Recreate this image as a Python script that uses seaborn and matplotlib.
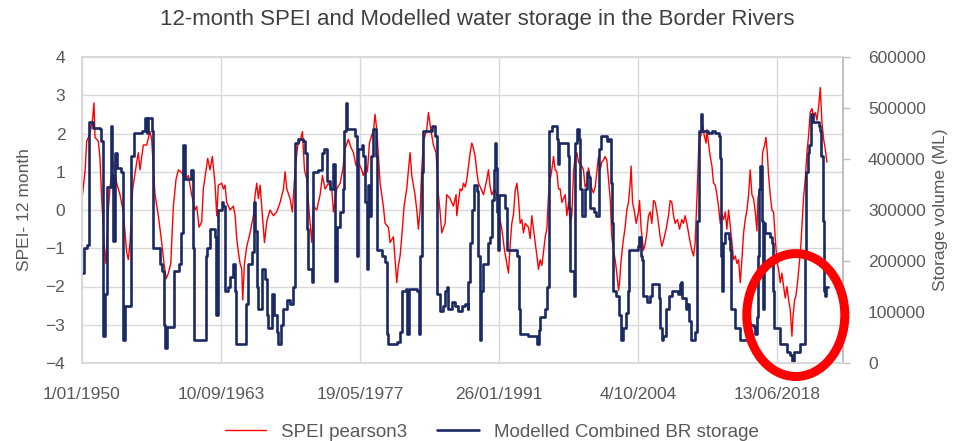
import numpy as np
import pandas as pd
import matplotlib
matplotlib.use("Agg")
import matplotlib.pyplot as plt
import matplotlib.dates as mdates
from matplotlib.patches import Ellipse
import seaborn as sns

# -----------------------------
# data (decimal years)
# -----------------------------
spei_year = [
    1950.00, 1950.30, 1950.46, 1950.79, 1951.05, 1951.18, 1951.28, 1951.61, 1951.77, 1951.94,
    1952.17, 1952.36, 1952.59, 1952.76, 1953.09, 1953.42, 1953.74, 1954.07, 1954.40, 1954.56,
    1954.73, 1954.99, 1955.39, 1955.55, 1955.71, 1956.04, 1956.37, 1956.70, 1956.86, 1957.19,
    1957.52, 1957.85, 1958.08, 1958.28, 1958.51, 1958.74, 1959.00, 1959.26, 1959.49, 1959.82,
    1960.15, 1960.48, 1960.80, 1961.13, 1961.30, 1961.53, 1961.79, 1961.95,
    1962.38, 1962.61, 1962.84, 1963.11, 1963.27, 1963.43, 1963.76, 1963.93, 1964.09, 1964.25,
    1964.58, 1964.91, 1965.08, 1965.24, 1965.40, 1965.57, 1965.73, 1965.83, 1966.00, 1966.23,
    1966.55, 1966.88, 1967.05, 1967.21, 1967.37, 1967.54, 1967.70, 1967.97, 1968.20, 1968.52,
    1968.85, 1969.18, 1969.51, 1969.84, 1970.00, 1970.17, 1970.49, 1970.72, 1970.99, 1971.25,
    1971.48, 1971.71, 1971.91, 1972.14, 1972.37, 1972.63, 1972.79, 1973.12, 1973.45, 1973.68,
    1973.94, 1974.27, 1974.60,
    1974.76, 1975.09, 1975.42, 1975.68, 1975.91, 1976.24, 1976.47, 1976.73, 1977.00, 1977.22,
    1977.55, 1977.71, 1977.98, 1978.11, 1978.31, 1978.53, 1978.70, 1978.86, 1979.03, 1979.19,
    1979.36, 1979.52, 1979.68, 1979.85, 1980.18, 1980.34, 1980.67, 1980.83, 1981.00, 1981.16,
    1981.33, 1981.49, 1981.72, 1981.98, 1982.15, 1982.31, 1982.48, 1982.80, 1982.97, 1983.13,
    1983.30, 1983.46, 1983.63, 1983.95, 1984.12, 1984.35, 1984.61, 1984.87, 1985.10, 1985.27,
    1985.43, 1985.76, 1985.92, 1986.25, 1986.58, 1986.84,
    1986.91, 1987.08, 1987.24, 1987.41, 1987.57, 1987.74, 1987.90, 1988.06, 1988.23, 1988.39,
    1988.56, 1988.72, 1988.88, 1989.05, 1989.31, 1989.54, 1989.71, 1989.87, 1990.03, 1990.20,
    1990.36, 1990.63, 1990.85, 1991.02, 1991.35, 1991.61, 1991.84, 1992.00, 1992.17, 1992.33,
    1992.50, 1992.66, 1992.83, 1992.99, 1993.15, 1993.32, 1993.48, 1993.65, 1993.97, 1994.14,
    1994.30, 1994.47, 1994.63, 1994.80, 1994.96, 1995.12, 1995.29, 1995.45, 1995.62, 1995.78,
    1995.95, 1996.11, 1996.27, 1996.44, 1996.60, 1996.77, 1996.93, 1997.09, 1997.26, 1997.59,
    1997.75, 1997.92, 1998.08, 1998.24, 1998.41, 1998.57, 1998.74, 1998.90, 1999.23,
    1999.39, 1999.55, 1999.72, 1999.88, 2000.05, 2000.21, 2000.37, 2000.54, 2000.70, 2000.87,
    2001.03, 2001.19, 2001.36, 2001.52, 2001.69, 2001.85, 2002.02, 2002.18, 2002.34, 2002.51,
    2002.67, 2002.84, 2002.94, 2003.07, 2003.26, 2003.49, 2003.66, 2003.82, 2003.99, 2004.08,
    2004.22, 2004.38, 2004.58, 2004.81, 2004.91, 2005.07, 2005.30, 2005.46, 2005.63, 2005.79,
    2005.96, 2006.12, 2006.29, 2006.45, 2006.68, 2006.94, 2007.11, 2007.27, 2007.53, 2007.76,
    2007.93, 2008.09, 2008.26, 2008.42, 2008.65, 2008.85, 2009.08, 2009.24, 2009.40, 2009.57,
    2009.73, 2009.90, 2010.06, 2010.23, 2010.39, 2010.49, 2010.62, 2010.75, 2010.95, 2011.15,
    2011.28, 2011.47,
    2011.54, 2011.71, 2011.87, 2012.04, 2012.20, 2012.37, 2012.53, 2012.69, 2012.86, 2013.02,
    2013.19, 2013.35, 2013.51, 2013.68, 2013.84, 2014.01, 2014.17, 2014.34, 2014.50, 2014.66,
    2014.83, 2014.99, 2015.16, 2015.32, 2015.49, 2015.65, 2015.81, 2015.98, 2016.14, 2016.31,
    2016.47, 2016.57, 2016.70, 2016.90, 2017.03, 2017.23, 2017.36, 2017.49, 2017.62, 2017.78,
    2017.95, 2018.11, 2018.28, 2018.44, 2018.60, 2018.77, 2018.93, 2019.10, 2019.26, 2019.43,
    2019.59, 2019.75, 2019.92, 2020.02, 2020.18, 2020.31, 2020.51, 2020.64, 2020.77, 2020.90,
    2021.07, 2021.23, 2021.40, 2021.56, 2021.72, 2021.89, 2022.05, 2022.22, 2022.38, 2022.55,
    2022.71, 2022.87, 2023.04, 2023.20, 2023.37,
]
spei_value = [
    0.3, 1.0, 1.8, 2.0, 2.4, 2.8, 1.9, 1.8, 1.35, 0.3,
    -0.85, -1.4, 0.0, 0.6, 1.25, 0.7, 0.4, -0.05, -1.1, -1.3,
    -0.85, 0.55, 1.25, 1.5, 1.05, 1.7, 1.7, 2.05, 1.85, 0.4,
    -0.15, -0.85, -1.4, -1.8, -1.65, -1.4, 0.1, 0.8, 1.05, 0.98,
    0.8, 0.9, 0.4, 0.0, 0.1, -0.45, -0.3, 0.55,
    1.35, 1.05, 1.4, 0.65, -0.15, 0.65, 0.7, 0.55, 0.65, 0.2,
    0.0, 0.1, -0.15, -0.75, -1.1, -1.4, -1.55, -2.35, -1.4, -0.95,
    -0.6, -0.15, 0.4, 0.7, 0.3, 0.65, 0.1, -0.85, -0.3, 0.0,
    -0.15, -0.05, 0.2, 0.55, 1.0, 0.55, 0.3, -0.05, 1.05, 1.7,
    1.8, 2.05, 1.05, 0.8, -0.05, -0.85, 0.1, 0.0, 0.4, 0.9,
    0.55, 0.7, 0.55,
    -0.05, 0.55, 0.7, 1.05, 1.6, 1.85, 1.65, 1.5, 1.15, 1.25,
    1.05, 0.9, 1.15, 1.0, 1.75, 1.95, 2.05, 2.5, 2.1, 1.4,
    0.7, 0.4, 0.1, -0.35, -0.45, -0.85, -0.7, -1.3, -1.9, -1.45,
    -1.2, -0.7, 0.1, 0.55, 1.05, 1.5, 0.9, 0.4, 0.0, -0.5,
    0.0, 1.05, 1.8, 2.1, 2.55, 2.1, 1.7, 1.5, 0.4, -0.05,
    -0.6, -0.35, 0.4, 0.3, 0.1, 0.4,
    -0.15, 0.2, 0.55, 0.5, 0.7, 0.6, 0.8, 1.15, 1.5, 1.75,
    1.6, 1.4, 1.0, 0.7, 0.55, 0.4, 0.6, 0.8, 1.05, 0.6,
    0.4, 0.55, 0.4, -0.05, -0.5, -1.05, -1.4, -1.65, -0.9, -0.35,
    -0.1, 0.5, 0.7, 0.3, -0.35, -0.25, -0.6, -0.35, -0.45, -0.75,
    -0.15, -0.5, -0.85, -1.2, -1.55, -1.3, -1.45, -1.1, -0.7, -0.5,
    0.4, 0.8, 1.05, 1.4, 1.05, 1.0, 0.55, 0.55, 0.2, 0.4,
    -0.15, 0.2, -0.35, -0.15, 1.0, 1.4, 1.5, 1.25, 1.15,
    1.05, 0.6, 0.7, 1.1, 0.85, 0.55, 0.45, 0.6, 1.0, 1.4,
    1.05, 1.25, 1.3, 1.4, 1.3, 0.8, 0.3, -0.7, -1.05, -1.3,
    -1.65, -2.1, -1.9, -1.4, -0.9, -0.45, 0.0, 0.2, 0.7, 1.15,
    0.2, 0.0, -0.35, -0.05, 0.25, -0.5, -1.05, -0.9, -0.6, -0.15,
    -0.05, -0.35, 0.25, 0.2, -0.15, -0.7, -0.95, -0.8, -0.5, -0.15,
    0.25, 0.2, -0.15, -0.35, -0.25, -0.5, -0.25, -0.35, -0.15, -0.35,
    -0.6, -0.85, -1.05, -1.2, -0.85, -0.15, 0.7, 1.75, 1.95, 2.2,
    1.95, 1.75,
    2.1, 1.75, 1.4, 1.15, 0.7, 0.65, 0.4, 0.1, -0.35, -0.1,
    -0.25, -0.05, -0.5, 0.0, -0.4, -0.85, -1.3, -1.2, -1.4, -1.3,
    -1.9, -1.3, -0.6, -0.25, 0.0, 0.4, 1.05, 0.4, 0.3, -0.05,
    -0.55, 0.3, 0.5, 0.55, 1.5, 1.7, 1.9, 1.5, 0.9, 0.4,
    0.0, -0.05, -0.75, -1.35, -1.55, -1.9, -1.65, -2.0, -2.3, -2.0,
    -2.35, -2.6, -3.3, -2.8, -2.35, -2.25, -1.8, -1.4, -1.05, -0.45,
    0.35, 0.8, 1.5, 1.95, 2.55, 2.65, 2.45, 2.55, 2.35, 2.7,
    3.2, 2.3, 1.85, 1.6, 1.25,
]

storage_year = [
    1950.00, 1950.20, 1950.53, 1950.66, 1951.12, 1951.77, 1951.90, 1952.04, 1952.23, 1952.50,
    1952.82, 1952.99, 1953.09, 1953.22, 1953.48, 1953.88, 1954.01, 1954.20, 1954.66, 1954.83,
    1955.12, 1955.88, 1956.21, 1956.37, 1956.54, 1956.86, 1956.96, 1957.68, 1957.91, 1958.05,
    1958.14, 1958.34, 1958.83, 1959.10, 1959.52, 1959.72, 1959.98, 1960.18, 1960.71, 1960.90,
    1961.03, 1962.02, 1962.22,
    1962.28, 1962.61, 1962.94, 1963.11, 1963.20, 1963.37, 1963.76, 1963.93, 1964.09, 1964.42,
    1964.58, 1964.91, 1965.08, 1965.17, 1966.00, 1966.13, 1966.39, 1966.72, 1966.95, 1967.05,
    1967.21, 1967.37, 1967.70, 1968.03, 1968.20, 1968.36, 1968.69, 1968.95, 1969.18, 1969.28,
    1969.61, 1969.84, 1970.17, 1970.49, 1970.82, 1970.99, 1971.32, 1971.81, 1971.97, 1972.14,
    1972.30, 1972.70, 1972.79, 1973.29, 1973.61, 1973.88, 1974.11, 1974.44, 1974.76,
    1974.89, 1974.96, 1975.09, 1975.15, 1975.42, 1975.68, 1975.81, 1976.01, 1976.14, 1976.73,
    1976.89, 1977.06, 1977.22, 1977.55, 1977.71, 1977.88, 1978.04, 1978.14, 1978.31, 1978.44,
    1978.63, 1978.80, 1978.93, 1979.03, 1979.52, 1979.85, 1980.01, 1980.18, 1981.00, 1981.33,
    1981.49, 1981.92, 1982.05, 1982.18, 1982.80, 1983.03, 1983.17, 1983.30, 1983.46, 1983.63,
    1984.45, 1984.77, 1984.94, 1985.27, 1985.60, 1985.76, 1985.92, 1986.09, 1986.42, 1986.75,
    1987.07,
    1987.41, 1987.74, 1988.00, 1988.06, 1988.23, 1988.39, 1988.56, 1988.88, 1989.05, 1989.15,
    1989.31, 1989.54, 1990.03, 1990.20, 1990.36, 1990.53, 1990.63, 1990.76, 1990.89, 1990.95,
    1991.09, 1991.68, 1991.84, 1992.83, 1992.99, 1993.15, 1993.97, 1994.80, 1994.96, 1995.12,
    1995.62, 1995.78, 1995.95, 1996.04, 1996.27, 1996.77, 1996.86, 1996.99, 1997.59, 1997.85,
    1997.98, 1998.08, 1998.41, 1998.51, 1998.57, 1998.74, 1998.90, 1999.07, 1999.23,
    1999.55, 1999.72, 1999.88, 2000.05, 2000.44, 2000.64, 2000.87, 2000.96, 2001.10, 2001.69,
    2001.95, 2002.08, 2002.18, 2002.28, 2002.61, 2002.84, 2003.07, 2003.26, 2003.59, 2003.82,
    2003.92, 2004.71, 2004.90, 2005.04, 2005.14, 2005.23, 2005.63, 2005.96, 2006.12, 2006.68,
    2006.78, 2006.94, 2007.11, 2007.27, 2007.53, 2007.86, 2008.09, 2008.65, 2008.85, 2008.98,
    2009.08, 2009.50, 2009.63, 2009.83, 2009.96, 2010.39, 2010.55, 2010.72, 2010.95, 2011.05,
    2011.70,
    2012.04, 2012.37, 2012.69, 2012.86, 2012.96, 2013.02, 2013.12, 2013.35, 2013.68, 2013.84,
    2013.94, 2014.27, 2014.83, 2015.06, 2015.49, 2015.81, 2016.14, 2016.31, 2016.47, 2016.57,
    2016.70, 2016.80, 2016.96, 2017.09, 2017.19, 2017.29, 2017.78, 2017.95, 2018.05, 2018.18,
    2018.77, 2019.43, 2019.75, 2019.92, 2020.08, 2020.74, 2021.17, 2021.23, 2021.33, 2021.49,
    2021.62, 2021.76, 2021.95, 2022.55, 2022.71, 2022.81, 2022.94, 2023.04, 2023.14, 2023.27,
    2023.47,
]
storage_ml = [
    176000, 225000, 232000, 472000, 461000, 458000, 435000, 52000, 135000, 345000,
    465000, 368000, 240000, 412000, 382000, 375000, 45000, 112000, 112000, 405000,
    450000, 454000, 480000, 450000, 480000, 454000, 225000, 195000, 180000, 75000,
    30000, 71000, 71000, 180000, 195000, 255000, 428000, 360000, 379000, 225000,
    45000, 45000, 210000,
    225000, 262000, 262000, 248000, 94000, 300000, 315000, 308000, 142000, 150000,
    169000, 195000, 142000, 38000, 38000, 116000, 195000, 218000, 315000, 259000,
    150000, 105000, 184000, 165000, 94000, 68000, 135000, 94000, 60000, 38000,
    75000, 105000, 124000, 116000, 150000, 431000, 439000, 435000, 412000, 262000,
    184000, 158000, 375000, 379000, 412000, 420000, 356000, 341000, 390000,
    390000, 161000, 161000, 266000, 296000, 341000, 454000, 510000, 458000, 458000,
    446000, 210000, 420000, 428000, 405000, 315000, 184000, 349000, 289000, 405000,
    458000, 458000, 405000, 221000, 210000, 199000, 56000, 38000, 41000, 60000,
    142000, 146000, 56000, 146000, 146000, 142000, 56000, 210000, 375000, 454000,
    465000, 446000, 135000, 101000, 112000, 142000, 150000, 105000, 120000, 112000,
    101000,
    112000, 116000, 105000, 158000, 236000, 300000, 349000, 338000, 210000, 45000,
    142000, 195000, 236000, 248000, 319000, 379000, 431000, 382000, 296000, 221000,
    330000, 304000, 221000, 210000, 105000, 56000, 52000, 38000, 64000, 90000,
    105000, 150000, 375000, 454000, 465000, 439000, 390000, 431000, 431000, 405000,
    304000, 180000, 131000, 278000, 431000, 458000, 439000, 341000, 289000,
    341000, 375000, 364000, 304000, 296000, 289000, 341000, 420000, 446000, 435000,
    439000, 352000, 274000, 142000, 131000, 94000, 45000, 68000, 98000, 142000,
    221000, 229000, 248000, 210000, 202000, 131000, 120000, 131000, 154000, 154000,
    128000, 68000, 45000, 52000, 105000, 131000, 142000, 135000, 154000, 158000,
    128000, 105000, 116000, 82000, 45000, 60000, 278000, 454000, 488000, 454000,
    450000,
    454000, 450000, 446000, 401000, 210000, 142000, 236000, 255000, 244000, 221000,
    105000, 68000, 45000, 45000, 79000, 75000, 71000, 56000, 90000, 210000,
    341000, 386000, 278000, 105000, 274000, 255000, 248000, 236000, 142000, 68000,
    38000, 22000, 15000, 4000, 22000, 38000, 45000, 210000, 375000, 412000,
    428000, 488000, 472000, 465000, 454000, 405000, 278000, 142000, 131000, 150000,
    150000,
]

tick_step_days = 5000          # Excel date axis major unit
n_ticks = 6

title = "12-month SPEI and Modelled water storage in the Border Rivers"


def to_date(years):
    yrs = np.asarray(years, dtype=float)
    return pd.Timestamp("1950-01-01") + pd.to_timedelta((yrs - 1950.0) * 365.25, unit="D")


spei = pd.DataFrame({"date": to_date(spei_year), "spei": spei_value})
storage = pd.DataFrame({"date": to_date(storage_year), "ml": storage_ml})

start = pd.Timestamp("1950-01-01")
tick_dates = [start + pd.Timedelta(days=tick_step_days * i) for i in range(n_ticks)]
tick_labels = [f"{d.day}/{d.month:02d}/{d.year}" for d in tick_dates]

# -----------------------------
# plot
# -----------------------------
sns.set_theme(style="white")
plt.rcParams["font.family"] = ["Liberation Sans", "DejaVu Sans"]

text_col = "#595959"
grid_col = "#d9d9d9"
red = "#ff0000"
navy = "#1b2a63"

fig = plt.figure(figsize=(9.55, 4.41), dpi=100)
ax = fig.add_axes([82 / 955, 1 - 363 / 441, (843 - 82) / 955, (363 - 57) / 441])
ax2 = ax.twinx()

sns.lineplot(data=spei, x="date", y="spei", ax=ax, color=red, linewidth=1.0, legend=False)
sns.lineplot(data=storage, x="date", y="ml", ax=ax2, color=navy, linewidth=1.9,
             drawstyle="steps-post", legend=False)

ax.set_xlim(start, start + pd.Timedelta(days=27375))
ax.set_ylim(-4, 4)
ax.set_yticks(range(-4, 5))
ax2.set_ylim(0, 600000)
ax2.set_yticks(range(0, 600001, 100000))
ax2.set_yticklabels([str(v) for v in range(0, 600001, 100000)])

ax.set_xticks(tick_dates)
ax.set_xticklabels(tick_labels)

ax.grid(True, color=grid_col, linewidth=1)
ax2.grid(False)
for a in (ax, ax2):
    for side in ("top", "left", "bottom"):
        a.spines[side].set_color(grid_col)
    a.spines["right"].set_color("#bfbfbf")

ax.tick_params(axis="x", length=0, pad=17, labelsize=12.5, labelcolor=text_col)
ax.tick_params(axis="y", length=0, pad=12, labelsize=12.5, labelcolor=text_col)
ax2.tick_params(axis="y", length=5, width=1, color="#bfbfbf", direction="out",
                pad=13, labelsize=12.5, labelcolor=text_col)

ax.set_xlabel("")
ax.set_ylabel("SPEI- 12 month", fontsize=12.5, color=text_col, labelpad=10)
ax2.set_ylabel("Storage volume (ML)", fontsize=12.5, color=text_col, labelpad=5)

fig.suptitle(title, x=0.5, y=0.955, va="center", fontsize=16, color="#404040")

# red circle highlighting the 2017-2020 drought
cx = mdates.date2num(to_date([2020.30])[0])
ring = Ellipse((cx, 94000), 9.65 * 365.25, 241000, fill=False,
               edgecolor=red, linewidth=6.5, clip_on=False, zorder=10)
ax2.add_patch(ring)

handles = [ax.get_lines()[0], ax2.get_lines()[0]]
fig.legend(handles, ["SPEI pearson3", "Modelled Combined BR storage"],
           loc="center", bbox_to_anchor=(0.515, 0.02), ncol=2, frameon=False,
           fontsize=13.5, handlelength=2.2, columnspacing=1.6, labelcolor=text_col)

fig.savefig("out.png", dpi=100)
